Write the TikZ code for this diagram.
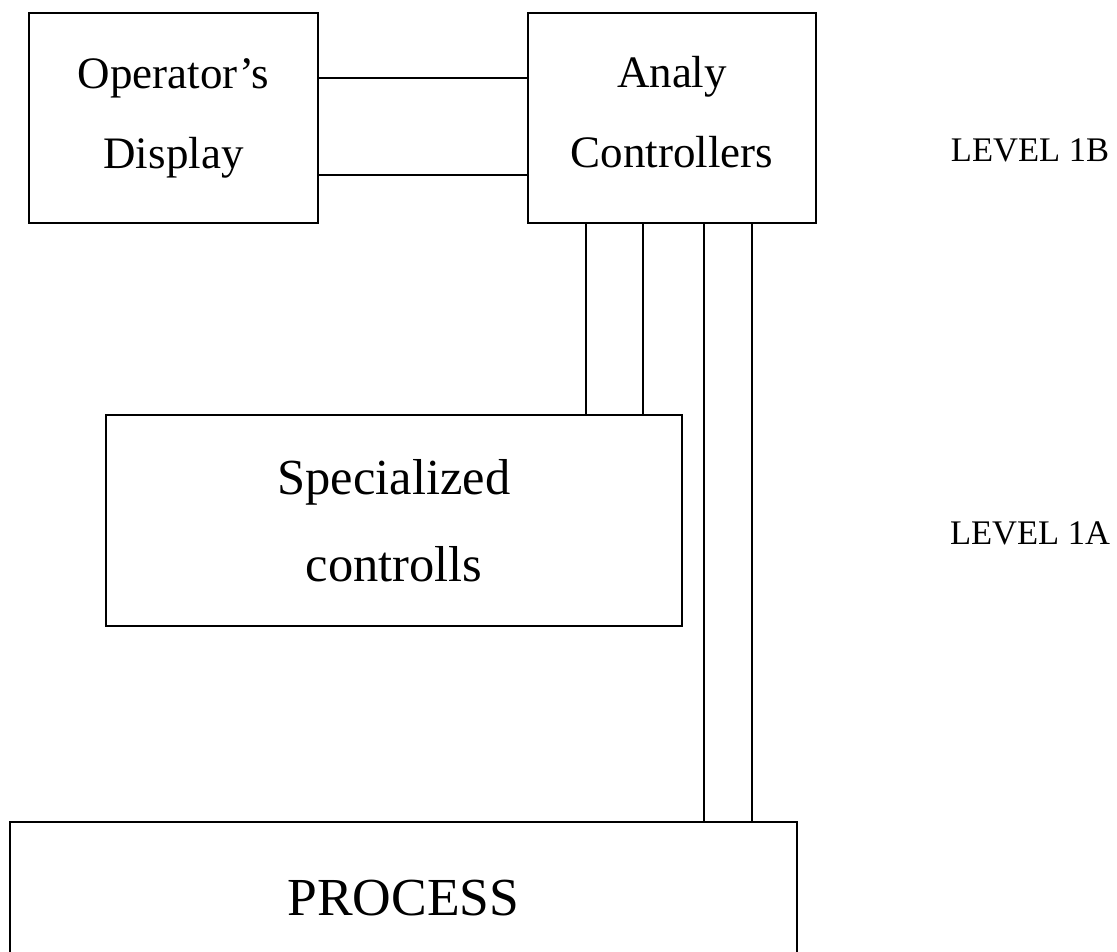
\documentclass[tikz,border=0pt]{standalone}
\usepackage{fontspec}
\setmainfont{Liberation Serif}
\begin{document}
\begin{tikzpicture}[x=1pt,y=-1pt,
  blk/.style={draw,line width=1.5pt,inner sep=0pt,align=center},
  wire/.style={line width=1.5pt},
  lvl/.style={font=\fontsize{34.5}{40}\selectfont}]
\useasboundingbox (0,0) rectangle (1117,952);
\clip (0,0) rectangle (1117,952);
\fill[white] (0,0) rectangle (1117,952);

% Level 1B units
\node[blk,minimum width=289pt,minimum height=210pt,font=\fontsize{45}{80}\selectfont]
  (op) at (173.5,118) {Operator’s\\Display};
\node[blk,minimum width=288pt,minimum height=210pt] (an) at (672,118) {};
\node[align=center,inner sep=0pt,font=\fontsize{45}{80}\selectfont]
  (antext) at (672,112) {Analy\\Controllers};

% Level 1A unit
\node[blk,minimum width=576pt,minimum height=211pt,font=\fontsize{50.5}{87}\selectfont]
  (sp) at (394,520.5) {Specialized\\controlls};

% Plant
\node[blk,minimum width=787pt,minimum height=152pt,font=\fontsize{53.5}{60}\selectfont]
  (pr) at (403.5,898) {PROCESS};

% Level labels
\node[lvl] (l1b) at (1030,150) {LEVEL 1B};
\node[lvl] (l1a) at (1030,533) {LEVEL 1A};

% Display <-> analog controllers
\draw[wire] ([yshift=40pt]op.east) -- ([yshift=40pt]op.east -| an.west);
\draw[wire] ([yshift=-57pt]op.east) -- ([yshift=-57pt]op.east -| an.west);

% Analog controllers -> specialized controls
\draw[wire] ([xshift=-86pt]an.south) -- ([xshift=-86pt]an.south |- sp.north);
\draw[wire] ([xshift=-29pt]an.south) -- ([xshift=-29pt]an.south |- sp.north);

% Analog controllers -> process
\draw[wire] ([xshift=32pt]an.south) -- ([xshift=32pt]an.south |- pr.north);
\draw[wire] ([xshift=80pt]an.south) -- ([xshift=80pt]an.south |- pr.north);
\end{tikzpicture}
\end{document}
